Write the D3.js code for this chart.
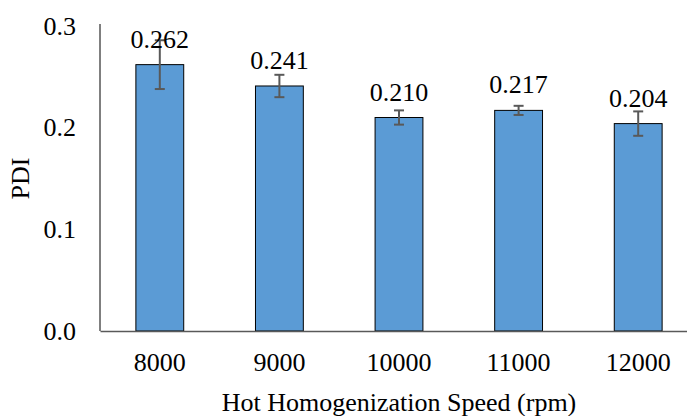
<!DOCTYPE html>
<html><head><meta charset="utf-8">
<script src="https://cdn.jsdelivr.net/npm/d3@7"></script>
<style>body{margin:0;background:#fff}svg{display:block}text{font-family:"Liberation Serif","Times New Roman",serif !important;}</style>
</head><body>
<svg id="c" width="687" height="416"></svg>
<script>
const categories = ["8000","9000","10000","11000","12000"];
const values = [0.262,0.241,0.210,0.217,0.204];
const errors = [0.024,0.011,0.007,0.0045,0.012];
const labels = ["0.262","0.241","0.210","0.217","0.204"];
const yTicks = [0,0.1,0.2,0.3];

const svg = d3.select("#c");
const fs = 26;
const m = {left:100, right:-11, top:26, bottom:85};
const W = 687, H = 416;
const x = d3.scaleBand().domain(categories).range([m.left, W - m.right]).paddingInner(0.6).paddingOuter(0.3);
const y = d3.scaleLinear().domain([0,0.3]).range([H - m.bottom, m.top]);

// bars
svg.selectAll("rect.bar").data(values).join("rect")
  .attr("x",(d,i)=>x(categories[i])).attr("width",x.bandwidth())
  .attr("y",d=>y(d)).attr("height",d=>y(0)-y(d))
  .attr("fill","#5B9BD5").attr("stroke","#000").attr("stroke-width",1);

// error bars
const eg = svg.append("g").attr("stroke","#595959").attr("stroke-width",2);
values.forEach((v,i)=>{
  const cx = x(categories[i]) + x.bandwidth()/2;
  eg.append("line").attr("x1",cx).attr("x2",cx).attr("y1",y(v+errors[i])).attr("y2",y(v-errors[i]));
  eg.append("line").attr("x1",cx-5).attr("x2",cx+5).attr("y1",y(v+errors[i])).attr("y2",y(v+errors[i]));
  eg.append("line").attr("x1",cx-5).attr("x2",cx+5).attr("y1",y(v-errors[i])).attr("y2",y(v-errors[i]));
});

// data labels
svg.selectAll("text.lab").data(values).join("text")
  .attr("x",(d,i)=>x(categories[i]) + x.bandwidth()/2)
  .attr("y",d=>y(d)-17)
  .attr("text-anchor","middle").style("font-size",fs+"px").attr("fill","#000")
  .text((d,i)=>labels[i]);

// y axis
const ya = svg.append("g").attr("transform",`translate(${m.left},0)`)
  .call(d3.axisLeft(y).tickValues(yTicks).tickFormat(d3.format(".1f")).tickSize(0).tickPadding(24));
ya.attr("font-family",null).attr("font-size",null);
ya.select(".domain").attr("stroke","#000").attr("d",`M0,${y(0)}V${m.top-2}`);
ya.selectAll("text").style("font-size",fs+"px").attr("fill","#000");

// x axis
const xa = svg.append("g").attr("transform",`translate(0,${y(0)})`)
  .call(d3.axisBottom(x).tickSize(0).tickPadding(22));
xa.attr("font-family",null).attr("font-size",null);
xa.select(".domain").attr("stroke","#595959").attr("stroke-width",1.5);
xa.selectAll("text").style("font-size",fs+"px").attr("fill","#000");

// axis titles
svg.append("text").attr("x",399).attr("y",411).attr("text-anchor","middle")
  .style("font-size",fs+"px").attr("fill","#000").text("Hot Homogenization Speed (rpm)");
svg.append("text").attr("transform",`translate(29,${(y(0)+m.top)/2}) rotate(-90)`).attr("text-anchor","middle")
  .style("font-size",fs+"px").attr("fill","#000").text("PDI");
</script>
</body></html>
